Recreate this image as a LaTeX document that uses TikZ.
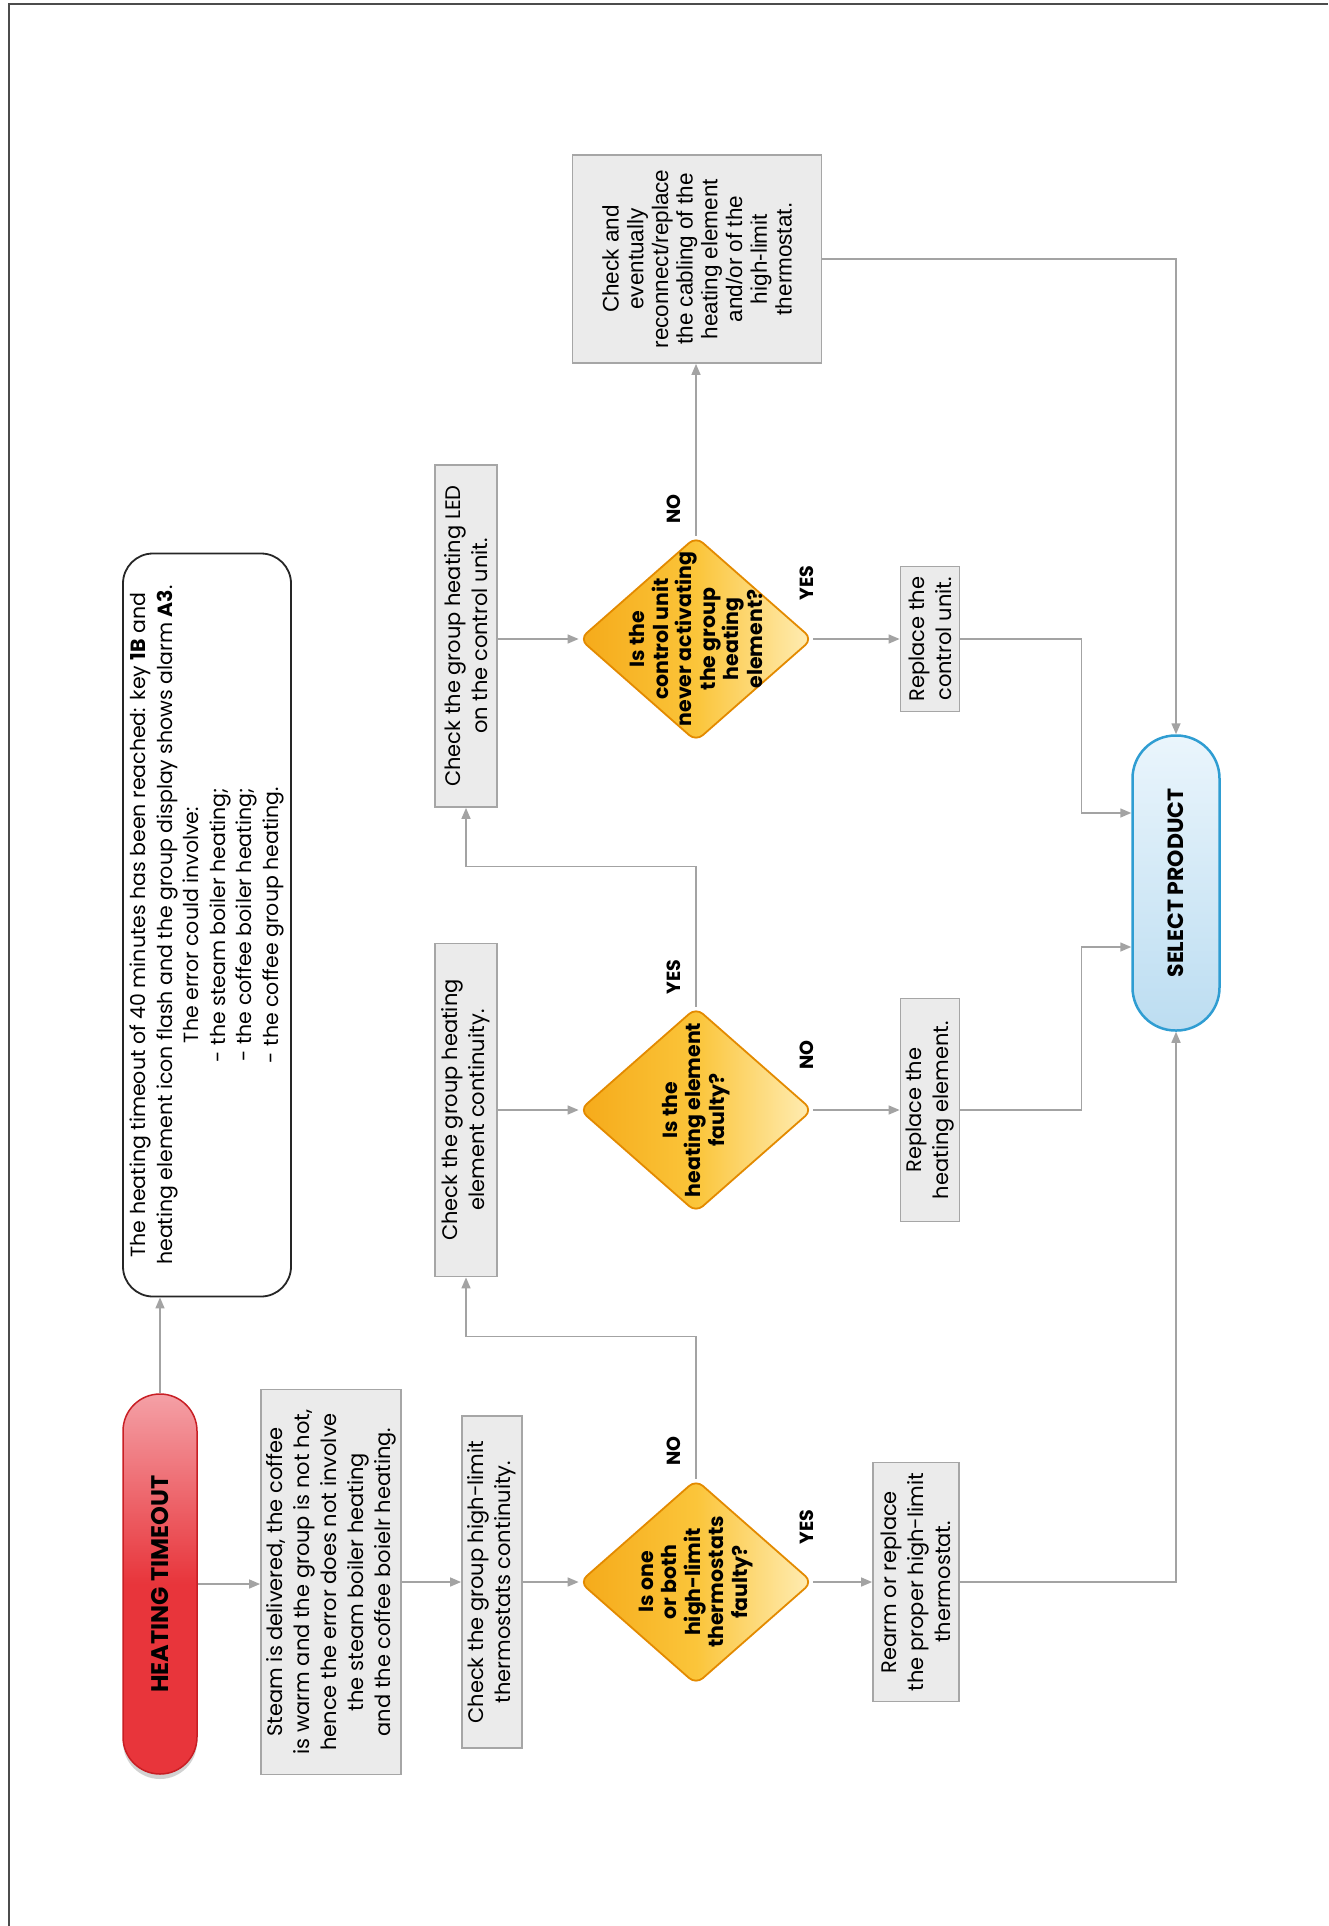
\documentclass[tikz,border=0pt]{standalone}
\usepackage{fontspec}
\setmainfont{Poppins}
\newfontfamily\arialf{Liberation Sans}
\usetikzlibrary{shapes.geometric,arrows.meta,calc,shadows}
\definecolor{linegray}{HTML}{A3A3A3}
\definecolor{boxfill}{HTML}{EBEBEB}
\definecolor{boxline}{HTML}{A6A6A6}
\definecolor{redA}{HTML}{E8353B}
\definecolor{redL}{HTML}{F4A0A6}
\definecolor{redD}{HTML}{C81E24}
\definecolor{orA}{HTML}{F5AA1A}
\definecolor{orM}{HTML}{FBC53A}
\definecolor{orL}{HTML}{FFEDB5}
\definecolor{orD}{HTML}{E38A00}
\definecolor{blA}{HTML}{BCDDF1}
\definecolor{blL}{HTML}{EAF5FC}
\definecolor{blD}{HTML}{2F9DD2}
\begin{document}
\begin{tikzpicture}[x=1pt,y=-1pt,
  conn/.style={draw=linegray, line width=1.5pt},
  arr/.style={conn,-{Triangle[length=11pt,width=9pt]}},
  gbox/.style={rectangle, draw=boxline, fill=boxfill, line width=1.8pt, inner sep=0pt, align=center, font=\fontsize{21}{27}\selectfont},
  pill/.style={rectangle, inner sep=0pt, align=center, font=\fontsize{24}{28}\selectfont\bfseries},
  dia/.style={diamond, draw=orD, line width=1.8pt, rounded corners=9pt, inner sep=0pt, left color=orA, right color=orL, middle color=orM, minimum width=205, minimum height=233},
  dtext/.style={align=center, font=\fontsize{20.5}{23.5}\selectfont\bfseries},
  yn/.style={font=\fontsize{19}{22}\selectfont\bfseries}
]
\useasboundingbox (0,0) rectangle (1328,1926);
\fill[white] (0,0) rectangle (1328,1926);
\draw[line width=2pt, draw=black!70] (9,1926) -- (9,4.5) -- (1328,4.5);
\begin{scope}[shift={(0,1926)}, rotate=90, transform shape]
% terminals
\node[pill, minimum width=380, minimum height=74, rounded corners=37pt, draw=redD, line width=1.5pt, top color=redL, bottom color=redA, middle color=redA, drop shadow={shadow xshift=0pt, shadow yshift=-5pt, opacity=0.35}] (HT) at (342,160) {HEATING TIMEOUT};
\node[pill, minimum width=295, minimum height=87, rounded corners=43pt, draw=blD, line width=2.5pt, top color=blL, bottom color=blA, font=\fontsize{22}{26}\selectfont\bfseries] (SP) at (1043,1176) {SELECT PRODUCT};
% alarm box
\node[rectangle, draw=black!85, line width=1.8pt, rounded corners=30pt, fill=white, minimum width=743, minimum height=168, align=center, inner sep=0pt, font=\fontsize{20.5}{26.5}\selectfont] (AL) at (1001,207) {The heating timeout of 40 minutes has been reached: key \textbf{1B} and\\heating element icon flash and the group display shows alarm \textbf{A3}.\\The error could involve:\\- the steam boiler heating;\\- the coffee boiler heating;\\- the coffee group heating.};
% column 1
\node[gbox, minimum width=385, minimum height=140] (ST) at (344,331) {Steam is delivered, the coffee\\is warm and the group is not hot,\\hence the error does not involve\\the steam boiler heating\\and the coffee boielr heating.};
\node[gbox, minimum width=332, minimum height=60] (CT) at (344,492) {Check the group high-limit\\thermostats continuity.};
\node[dia, label={[dtext]center:{Is one\\or both\\high-limit\\thermostats\\faulty?}}] (D1) at (344,696) {};
\node[gbox, minimum width=239, minimum height=86] (RA) at (344,916) {Rearm or replace\\the proper high-limit\\thermostat.};
% column 2
\node[gbox, minimum width=333, minimum height=62] (CH) at (816,466) {Check the group heating\\element continuity.};
\node[dia, label={[dtext]center:{Is the\\heating element\\faulty?}}] (D2) at (816,696) {};
\node[gbox, minimum width=223, minimum height=59] (RH) at (816,930) {Replace the\\heating element.};
% column 3
\node[gbox, minimum width=342, minimum height=62] (CL) at (1290,466) {Check the group heating LED\\on the control unit.};
\node[dia, label={[dtext]center:{Is the\\control unit\\never activating\\the group\\heating\\element?}}] (D3) at (1287,696) {};
\node[gbox, minimum width=145, minimum height=59] (RC) at (1287,930) {Replace the\\control unit.};
% column 4
\node[gbox, minimum width=208, minimum height=249, font=\arialf\fontsize{22.5}{24.7}\selectfont] (CE) at (1667,697) {Check and\\eventually\\reconnect/replace\\the cabling of the\\heating element\\and/or of the\\high-limit\\thermostat.};
% yes / no labels
\node[yn] (n1) at ($(D1)+(131,-22)$) {NO};
\node[yn] (y1) at ($(D1)+(55,111)$) {YES};
\node[yn] (y2) at ($(D2)+(133,-22)$) {YES};
\node[yn] (n2) at ($(D2)+(55,111)$) {NO};
\node[yn] (n3) at ($(D3)+(130,-22)$) {NO};
\node[yn] (y3) at ($(D3)+(56,111)$) {YES};
% connectors
\draw[arr] (HT.east) -- (HT.east -| AL.west);
\draw[arr] (HT.south) -- (HT.south |- ST.north);
\draw[arr] (ST.south) -- (CT.north);
\draw[arr] (CT.south) -- (D1.north);
\draw[arr] (D1.south) -- (RA.north);
\draw[arr] (D1.east) -- ++(142,0) |- (CH.west);
\draw[arr] (CH.south) -- (D2.north);
\draw[arr] (D2.south) -- (RH.north);
\draw[arr] (D2.east) -- ++(140,0) |- (CL.west);
\draw[arr] (CL.south -| D3.north) -- (D3.north);
\draw[arr] (D3.south) -- (RC.north);
\draw[arr] (D3.east) -- (D3.east -| CE.west);
\draw[arr] (CE.south) |- (SP.east);
\draw[arr] (RA.south) |- (SP.west);
\draw[arr] (RH.south) -- ++(0,121) -| ([xshift=-64pt]SP.north);
\draw[arr] (RC.south) -- ++(0,121) -| ([xshift=70pt]SP.north);
\end{scope}
\end{tikzpicture}
\end{document}
